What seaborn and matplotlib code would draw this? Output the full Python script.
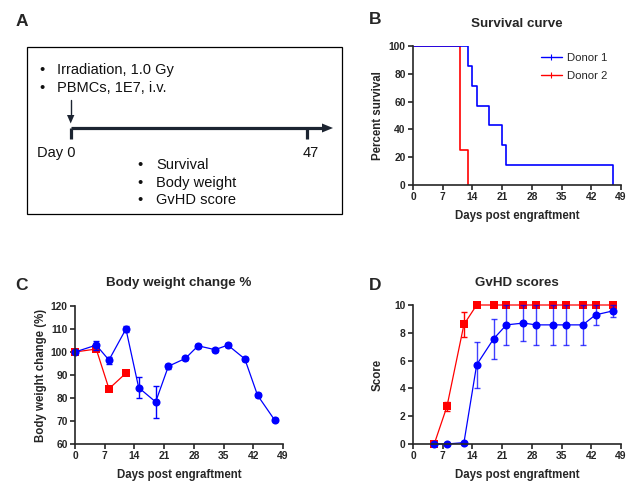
import numpy as np
import pandas as pd
import matplotlib
matplotlib.use("Agg")
import matplotlib.pyplot as plt
from matplotlib.lines import Line2D
from matplotlib.patches import Rectangle, Polygon
import seaborn as sns

# ---------------- data ----------------
BLUE = "#0000FF"
RED = "#FF0000"

# Survival (Kaplan-Meier steps)
surv_d1_days = [0, 13, 14, 15, 18, 21, 22, 47]
surv_d1_pct = [100, 85.7, 71.4, 57.1, 42.9, 28.6, 14.3, 0]
surv_d2_days = [0, 11, 13]
surv_d2_pct = [100, 25, 0]

# Body weight change %
bw_d1_days = [0, 5, 8, 12, 15, 19, 22, 26, 29, 33, 36, 40, 43, 47]
bw_d1_mean = [100, 103, 96.5, 110, 84.5, 78.3, 93.8, 97.2, 102.7, 101, 103, 97, 81.2, 70.5]
bw_d1_err = [0.6, 2.0, 1.5, 1.2, 4.5, 6.9, 1.0, 0.8, 0.8, 0.8, 0.8, 0.8, 0.8, 0.6]
bw_d2_days = [0, 5, 8, 12]
bw_d2_mean = [100, 101.3, 84, 90.8]
bw_d2_err = [0.3, 1.0, 0.4, 0.4]

# GvHD scores
gv_days = [5, 8, 12, 15, 19, 22, 26, 29, 33, 36, 40, 43, 47]
gv_d1_mean = [0, 0, 0.1, 5.7, 7.57, 8.57, 8.7, 8.57, 8.57, 8.57, 8.57, 9.29, 9.57]
gv_d1_err = [0, 0, 0, 1.65, 1.42, 1.43, 1.3, 1.43, 1.43, 1.43, 1.43, 0.71, 0.43]
gv_d2_mean = [0, 2.7, 8.6, 10, 10, 10, 10, 10, 10, 10, 10, 10, 10]
gv_d2_err = [0, 0.3, 0.9, 0, 0, 0, 0, 0, 0, 0, 0, 0, 0]

xticks = [0, 7, 14, 21, 28, 35, 42, 49]

# ---------------- style ----------------
sns.set_style("ticks")
plt.rcParams["font.family"] = ["Liberation Sans", "DejaVu Sans"]
plt.rcParams["axes.linewidth"] = 1.2

W, H = 643, 501
fig = plt.figure(figsize=(W / 100, H / 100), dpi=100)


def px_axes(left, top, right, bottom):
    return fig.add_axes([left / W, 1 - bottom / H, (right - left) / W, (bottom - top) / H])


# ---------------- panel A (schematic) ----------------
axA = fig.add_axes([0, 0, 1, 1])
axA.set_xlim(0, W)
axA.set_ylim(H, 0)
axA.axis("off")
axA.patch.set_visible(False)
axA.add_patch(Rectangle((27, 47), 315, 167, fill=False, lw=0.9, ec="black"))
tA = dict(fontsize=10.5, va="center", ha="left", color="#111111")
for y, s in [(70, "Irradiation, 1.0 Gy"), (88, "PBMCs, 1E7, i.v.")]:
    axA.text(39, y, "•", **tA)
    axA.text(57, y, s, **tA)
for y, s in [(165, "Survival"), (183, "Body weight"), (200, "GvHD score")]:
    axA.text(137, y, "•", **tA)
    axA.text(156, y, s, **tA)
axA.text(37, 153, "Day 0", **tA)
axA.text(303, 153, "47", **tA)
dark = "#1c2431"
axA.plot([70.5, 323], [128, 128], color=dark, lw=2.3, solid_capstyle="butt")
axA.add_patch(Polygon([[322, 123.5], [333, 128], [322, 132.5]], closed=True, color=dark, lw=0))
axA.plot([71, 71], [128, 139], color=dark, lw=2.3, solid_capstyle="butt")
axA.plot([307, 307], [128, 139], color=dark, lw=2.3, solid_capstyle="butt")
axA.plot([70.7, 70.7], [100, 117], color=dark, lw=1.0)
axA.add_patch(Polygon([[67, 115], [70.7, 123.5], [74.4, 115]], closed=True, color=dark, lw=0))

# panel letters
for x, y, s in [(16, 22, "A"), (369, 20, "B"), (15, 285, "C"), (369, 285, "D")]:
    fig.text(x / W, 1 - y / H, s, fontsize=12.5, fontweight="bold", va="center", ha="left")


def style_axes(ax, xlabel, ylabel, ylabel_x):
    sns.despine(ax=ax)
    ax.set_xlim(0, 49)
    ax.set_xticks(xticks)
    ax.tick_params(axis="both", length=3.5, width=1.2, labelsize=7.4, pad=1.8, direction="out")
    for lab in ax.get_xticklabels() + ax.get_yticklabels():
        lab.set_fontweight("bold")
    ax.set_xlabel(xlabel, fontsize=8.3, fontweight="bold")
    ax.set_ylabel(ylabel, fontsize=8.3, fontweight="bold")
    ax.xaxis.set_label_coords(0.5, -0.225)
    ax.xaxis.label.set_va("center")
    ax.yaxis.set_label_coords(ylabel_x, 0.5)
    ax.yaxis.label.set_va("center")


# ---------------- panel B (survival) ----------------
axB = px_axes(413, 46, 621, 185)
df1 = pd.DataFrame({"day": surv_d1_days, "pct": surv_d1_pct})
df2 = pd.DataFrame({"day": surv_d2_days, "pct": surv_d2_pct})
sns.lineplot(data=df2, x="day", y="pct", ax=axB, color=RED, lw=1.2,
             drawstyle="steps-post", estimator=None, errorbar=None)
sns.lineplot(data=df1, x="day", y="pct", ax=axB, color=BLUE, lw=1.2,
             drawstyle="steps-post", estimator=None, errorbar=None)
axB.set_ylim(0, 100)
axB.set_yticks([0, 20, 40, 60, 80, 100])
style_axes(axB, "Days post engraftment", "Percent survival", -0.17)
handles = [Line2D([], [], color=BLUE, lw=1.0, marker="|", markersize=4, markeredgewidth=0.8),
           Line2D([], [], color=RED, lw=1.0, marker="|", markersize=4, markeredgewidth=0.8)]
axB.legend(handles, ["Donor 1", "Donor 2"], frameon=False, fontsize=8.2,
           loc="upper right", bbox_to_anchor=(0.985, 1.02), handlelength=1.8,
           handletextpad=0.5, labelspacing=0.7)
fig.text(517 / W, 1 - 24 / H, "Survival curve", fontsize=9.6, fontweight="bold", ha="center", va="center")

# ---------------- panel C (body weight) ----------------
axC = px_axes(75, 306, 283, 444)
bw2 = pd.DataFrame({"day": bw_d2_days, "val": bw_d2_mean})
bw1 = pd.DataFrame({"day": bw_d1_days, "val": bw_d1_mean})
axC.errorbar(bw_d2_days, bw_d2_mean, yerr=bw_d2_err, fmt="none", ecolor=RED, elinewidth=1.0, capsize=2.2, capthick=1.0)
sns.lineplot(data=bw2, x="day", y="val", ax=axC, color=RED, lw=0.9, marker="s",
             markersize=5.2, markeredgewidth=0, estimator=None, errorbar=None)
axC.errorbar(bw_d1_days, bw_d1_mean, yerr=bw_d1_err, fmt="none", ecolor=BLUE, elinewidth=1.0, capsize=2.2, capthick=1.0)
sns.lineplot(data=bw1, x="day", y="val", ax=axC, color=BLUE, lw=0.9, marker="o",
             markersize=5.8, markeredgewidth=0, estimator=None, errorbar=None)
axC.set_ylim(60, 120)
axC.set_yticks(range(60, 121, 10))
style_axes(axC, "Days post engraftment", "Body weight change (%)", -0.165)
fig.text(179 / W, 1 - 283 / H, "Body weight change %", fontsize=9.6, fontweight="bold", ha="center", va="center")

# ---------------- panel D (GvHD) ----------------
axD = px_axes(413, 305, 621, 444)
g2 = pd.DataFrame({"day": gv_days, "val": gv_d2_mean})
g1 = pd.DataFrame({"day": gv_days, "val": gv_d1_mean})
axD.errorbar(gv_days, gv_d2_mean, yerr=gv_d2_err, fmt="none", ecolor=RED, elinewidth=1.0, capsize=2.2, capthick=1.0)
sns.lineplot(data=g2, x="day", y="val", ax=axD, color=RED, lw=0.9, marker="s",
             markersize=5.2, markeredgewidth=0, estimator=None, errorbar=None)
axD.errorbar(gv_days, gv_d1_mean, yerr=gv_d1_err, fmt="none", ecolor=BLUE, elinewidth=1.0, capsize=2.2, capthick=1.0, alpha=0.75)
sns.lineplot(data=g1, x="day", y="val", ax=axD, color=BLUE, lw=0.9, marker="o",
             markersize=5.8, markeredgewidth=0, estimator=None, errorbar=None)
axD.set_ylim(0, 10)
axD.set_yticks(range(0, 11, 2))
for ax in (axC, axD):
    for ln in ax.lines:
        ln.set_clip_on(False)
style_axes(axD, "Days post engraftment", "Score", -0.17)
fig.text(517 / W, 1 - 283 / H, "GvHD scores", fontsize=9.6, fontweight="bold", ha="center", va="center")

fig.savefig("out.png", dpi=100)
